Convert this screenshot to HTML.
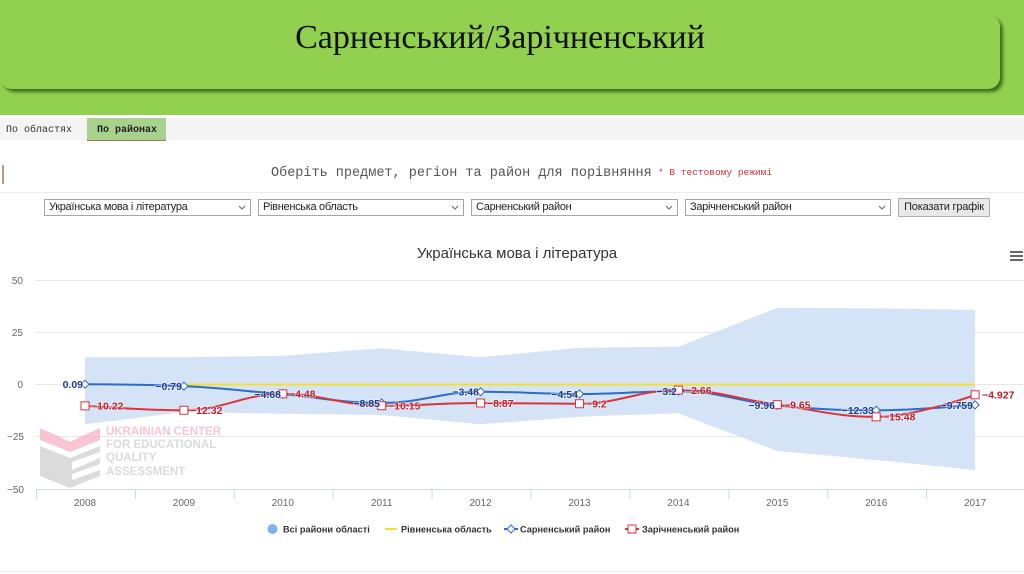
<!DOCTYPE html>
<html><head><meta charset="utf-8">
<style>
*{margin:0;padding:0;box-sizing:border-box}
html,body{width:1024px;height:574px;overflow:hidden;background:#fff;font-family:"Liberation Sans","DejaVu Sans",sans-serif}
.abs{position:absolute}
#banner{left:0;top:0;width:1024px;height:115px;background:#92d050}
#box{left:0;top:15px;width:1000px;height:74px;background:#92d050;border-radius:12px;box-shadow:3px 3px 3px rgba(50,90,20,.85)}
#htitle{left:0;top:15px;width:1000px;text-align:center;font-family:"Liberation Serif",serif;font-size:34px;line-height:46px;color:#111}
#tabs{left:0;top:118px;width:1024px;height:22px;background:#f4f4f4}
.tab{font-family:"Liberation Mono",monospace;font-size:10px;color:#333;top:125px}
#t2{left:87px;top:118px;width:79px;height:23px;background:#a9d18e;border-bottom:1px solid #b07050}
.sel{top:199px;height:17px;border:1px solid #a6a6a6;background:#fff;font-size:11px;letter-spacing:-.3px;line-height:15px;padding-left:4px;color:#222}
.sel svg{position:absolute;right:4px;top:5px}
</style></head><body>
<div id="banner" class="abs"></div>
<div id="box" class="abs"></div>
<div id="htitle" class="abs">Сарненський/Зарічненський</div>
<div class="abs" style="left:0;top:115px;width:1024px;height:3px;background:#fff"></div>
<div id="tabs" class="abs"></div>
<div class="abs tab" style="left:6px">По областях</div>
<div id="t2" class="abs"></div>
<div class="abs tab" style="left:97px;font-weight:bold;color:#222">По районах</div>
<div class="abs" style="left:2px;top:165px;width:2px;height:19px;background:#b89a80"></div>
<div class="abs" style="left:271px;top:166px;font-family:'Liberation Mono',monospace;font-size:13.5px;color:#555;white-space:nowrap">Оберіть предмет, регіон та район для порівняння</div>
<div class="abs" style="left:658px;top:167px;font-family:'Liberation Mono',monospace;font-size:9.5px;color:#d6303a;white-space:nowrap">* В тестовому режимі</div>
<div class="abs" style="left:0;top:192px;width:1024px;height:1px;background:#ececec"></div>
<div class="abs sel" style="left:44px;width:207px">Українська мова і література<svg width="8" height="6"><path d="M1 1 L4 4 L7 1" fill="none" stroke="#666" stroke-width="1"/></svg></div>
<div class="abs sel" style="left:258px;width:206px">Рівненська область<svg width="8" height="6"><path d="M1 1 L4 4 L7 1" fill="none" stroke="#666" stroke-width="1"/></svg></div>
<div class="abs sel" style="left:471px;width:207px">Сарненський район<svg width="8" height="6"><path d="M1 1 L4 4 L7 1" fill="none" stroke="#666" stroke-width="1"/></svg></div>
<div class="abs sel" style="left:685px;width:206px">Зарічненський район<svg width="8" height="6"><path d="M1 1 L4 4 L7 1" fill="none" stroke="#666" stroke-width="1"/></svg></div>
<div class="abs" style="left:898px;top:198px;width:92px;height:19px;background:#e8e8e8;border:1px solid #adadad;font-size:11px;letter-spacing:-.2px;line-height:17px;text-align:center;color:#222">Показати графік</div>

<svg class="abs" style="left:0;top:0" width="1024" height="574" viewBox="0 0 1024 574" font-family="Liberation Sans, DejaVu Sans, sans-serif">
<!-- title -->
<text x="517" y="258" text-anchor="middle" font-size="15" fill="#333">Українська мова і література</text>
<g stroke="#666" stroke-width="2"><line x1="1010" y1="252" x2="1023" y2="252"/><line x1="1010" y1="256" x2="1023" y2="256"/><line x1="1010" y1="260" x2="1023" y2="260"/></g>
<!-- grid -->
<g stroke="#e6e6e6" stroke-width="1">
<line x1="36" y1="280.5" x2="1024" y2="280.5"/>
<line x1="36" y1="332.5" x2="1024" y2="332.5"/>
<line x1="36" y1="384.5" x2="1024" y2="384.5"/>
<line x1="36" y1="436.5" x2="1024" y2="436.5"/>
</g>
<g font-size="10" fill="#666" text-anchor="end">
<text x="23" y="284">50</text>
<text x="23" y="336">25</text>
<text x="23" y="388">0</text>
<text x="24" y="440">−25</text>
<text x="24" y="493">−50</text>
</g>
<!-- watermark -->
<g opacity="0.75">
<path d="M40 428 L58 436 L70 442 L82 436 L100 428 L100 440 L70 452 L40 440 Z" fill="#f6b3c3"/>
<path d="M40 446 L70 458 L100 446 L100 452 L72 462 L72 470 L100 458 L100 464 L72 474 L72 480 L100 470 L100 476 L70 488 L40 476 Z" fill="#cfcfcf"/>
<g font-weight="bold" font-size="11.5">
<text x="106" y="435" fill="#f6b3c3">UKRAINIAN CENTER</text>
<text x="106" y="448" fill="#cfcfcf">FOR EDUCATIONAL</text>
<text x="106" y="461" fill="#cfcfcf">QUALITY</text>
<text x="106" y="475" fill="#cfcfcf">ASSESSMENT</text>
</g>
</g>
<!-- area range -->
<polygon fill="#d2e3f5" fill-opacity="0.95" points="85,357.3 183.9,357.3 282.8,355.7 381.7,348.3 480.6,357.3 579.5,347.7 678.4,346.7 777.3,307.7 876.2,308.3 975.1,310 975.1,470 876.2,460 777.3,451 678.4,413.3 579.5,416.7 480.6,424.3 381.7,415 282.8,413.7 183.9,412 85,424.3"/>
<!-- x axis -->
<line x1="36" y1="489.5" x2="1024" y2="489.5" stroke="#ccd6eb"/>
<g stroke="#ccd6eb">
<line x1="36.5" y1="489" x2="36.5" y2="499"/><line x1="135.4" y1="489" x2="135.4" y2="499"/><line x1="234.3" y1="489" x2="234.3" y2="499"/><line x1="333.2" y1="489" x2="333.2" y2="499"/><line x1="432.1" y1="489" x2="432.1" y2="499"/><line x1="531" y1="489" x2="531" y2="499"/><line x1="629.9" y1="489" x2="629.9" y2="499"/><line x1="728.8" y1="489" x2="728.8" y2="499"/><line x1="827.7" y1="489" x2="827.7" y2="499"/><line x1="926.6" y1="489" x2="926.6" y2="499"/>
</g>
<g font-size="10" fill="#666" text-anchor="middle">
<text x="85" y="506">2008</text><text x="183.9" y="506">2009</text><text x="282.8" y="506">2010</text><text x="381.7" y="506">2011</text><text x="480.6" y="506">2012</text><text x="579.5" y="506">2013</text><text x="678.4" y="506">2014</text><text x="777.3" y="506">2015</text><text x="876.2" y="506">2016</text><text x="975.1" y="506">2017</text>
</g>
<!-- yellow -->
<line x1="183.9" y1="384.5" x2="975.1" y2="384.5" stroke="#f0df3a" stroke-width="2"/>
<!-- blue -->
<path fill="none" stroke="#2f6cc4" stroke-width="2" d="M85,384.31 C85,384.31 144.34,384.31 183.9,386.15 C223.46,387.99 243.24,390.91 282.8,394.28 C322.36,397.65 342.14,403.00 381.7,403.00 C421.26,403.00 441.04,391.77 480.6,391.77 C520.16,391.77 539.94,393.99 579.5,393.99 C619.06,393.99 638.84,391.19 678.4,391.19 C717.96,391.19 737.74,401.50 777.3,405.32 C816.86,409.14 836.64,410.27 876.2,410.27 C915.76,410.27 975.1,404.90 975.1,404.90"/>
<!-- red -->
<path fill="none" stroke="#d8343c" stroke-width="2" d="M85,405.86 C85,405.86 144.34,410.25 183.9,410.25 C223.46,410.25 243.24,393.86 282.8,393.86 C322.36,393.86 342.14,405.71 381.7,405.71 C421.26,405.71 441.04,403.04 480.6,403.04 C520.16,403.04 539.94,403.73 579.5,403.73 C619.06,403.73 638.84,390.06 678.4,390.06 C717.96,390.06 737.74,399.31 777.3,404.67 C816.86,410.03 836.64,416.85 876.2,416.85 C915.76,416.85 975.1,394.80 975.1,394.80"/>
<!-- blue markers (diamonds) -->
<g fill="#fff" stroke="#2f6cc4" stroke-width="1">
<path d="M85,380.3 L89,384.3 L85,388.3 L81,384.3Z"/>
<path d="M183.9,382.15 L187.9,386.15 L183.9,390.15 L179.9,386.15Z"/>
<path d="M282.8,390.28 L286.8,394.28 L282.8,398.28 L278.8,394.28Z"/>
<path d="M381.7,399 L385.7,403 L381.7,407 L377.7,403Z"/>
<path d="M480.6,387.77 L484.6,391.77 L480.6,395.77 L476.6,391.77Z"/>
<path d="M579.5,389.99 L583.5,393.99 L579.5,397.99 L575.5,393.99Z"/>
<path d="M678.4,387.19 L682.4,391.19 L678.4,395.19 L674.4,391.19Z"/>
<path d="M777.3,401.32 L781.3,405.32 L777.3,409.32 L773.3,405.32Z"/>
<path d="M876.2,406.27 L880.2,410.27 L876.2,414.27 L872.2,410.27Z"/>
<path d="M975.1,400.9 L979.1,404.9 L975.1,408.9 L971.1,404.9Z"/>
</g>
<!-- red markers (squares) -->
<g fill="#fff" stroke="#d8343c" stroke-width="1">
<rect x="81" y="401.86" width="8" height="8"/>
<rect x="179.9" y="406.25" width="8" height="8"/>
<rect x="278.8" y="389.86" width="8" height="8"/>
<rect x="377.7" y="401.71" width="8" height="8"/>
<rect x="476.6" y="399.04" width="8" height="8"/>
<rect x="575.5" y="399.73" width="8" height="8"/>
<rect x="674.4" y="386.06" width="8" height="8"/>
<rect x="773.3" y="400.67" width="8" height="8"/>
<rect x="872.2" y="412.85" width="8" height="8"/>
<rect x="971.1" y="390.8" width="8" height="8"/>
</g>
<!-- blue labels -->
<g font-size="10.5" font-weight="bold" fill="#1d3c8c" text-anchor="end" stroke="#fff" stroke-width="1.5" paint-order="stroke" stroke-opacity="0.6">
<text x="83" y="388">0.09</text>
<text x="182" y="390">−0.79</text>
<text x="281" y="398">−4.68</text>
<text x="380" y="407">−8.85</text>
<text x="479" y="395.5">−3.48</text>
<text x="578" y="398">−4.54</text>
<text x="677" y="395">−3.2</text>
<text x="775" y="409">−9.96</text>
<text x="874" y="414">−12.33</text>
<text x="973" y="409">−9.759</text>
</g>
<!-- red labels -->
<g font-size="10.5" font-weight="bold" fill="#b8222c" stroke="#fff" stroke-width="1.5" paint-order="stroke" stroke-opacity="0.6">
<text x="91" y="409.5">−10.22</text>
<text x="190" y="414">−12.32</text>
<text x="289" y="397.5">−4.48</text>
<text x="388" y="409.5">−10.15</text>
<text x="487" y="407">−8.87</text>
<text x="586" y="407.5">−9.2</text>
<text x="685" y="394">−2.66</text>
<text x="784" y="408.5">−9.65</text>
<text x="883" y="420.5">−15.48</text>
<text x="982" y="398.5">−4.927</text>
</g>
<!-- legend -->
<g font-size="9.2" font-weight="bold" fill="#333">
<circle cx="272.5" cy="529" r="5" fill="#7cb5ec"/>
<text x="283" y="532.5">Всі райони області</text>
<line x1="385" y1="529" x2="397" y2="529" stroke="#f0df3a" stroke-width="2"/>
<text x="401" y="532.5">Рівненська область</text>
<line x1="504" y1="529" x2="518" y2="529" stroke="#2f6cc4" stroke-width="2"/>
<path d="M511,525 L515,529 L511,533 L507,529Z" fill="#fff" stroke="#2f6cc4"/>
<text x="520" y="532.5">Сарненський район</text>
<line x1="625" y1="529" x2="639" y2="529" stroke="#d8343c" stroke-width="2"/>
<rect x="628" y="525" width="8" height="8" fill="#fff" stroke="#d8343c"/>
<text x="642" y="532.5">Зарічненський район</text>
</g>
<line x1="0" y1="571.5" x2="1024" y2="571.5" stroke="#eeeeee"/>
</svg>
</body></html>
